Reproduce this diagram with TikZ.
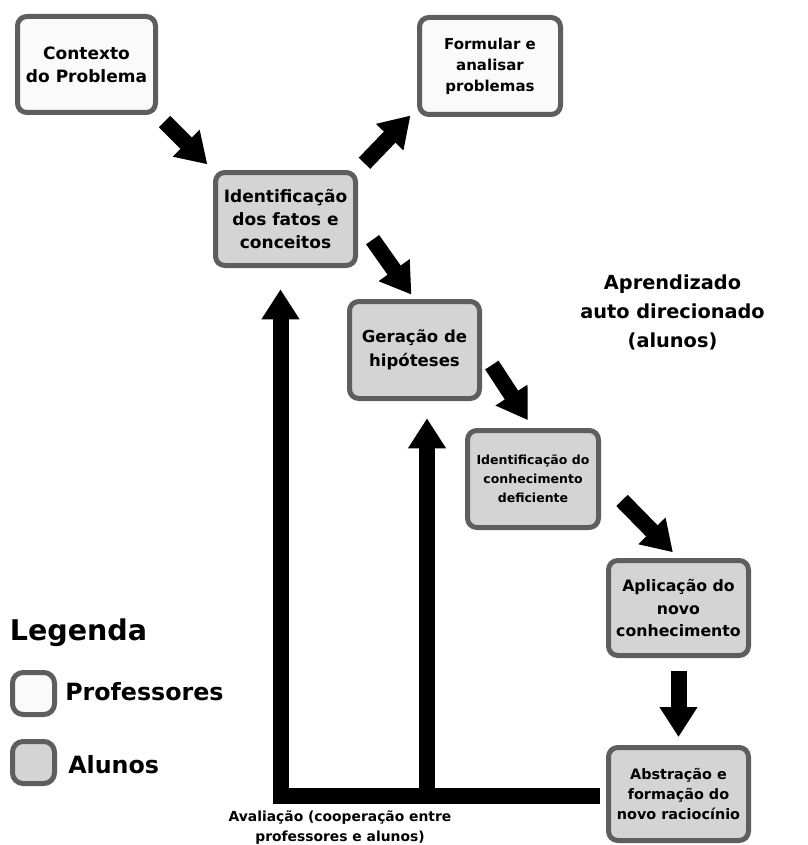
\documentclass[tikz,border=0pt]{standalone}
\usepackage{fontspec}
\setmainfont{DejaVu Sans}
\usetikzlibrary{arrows.meta}
\definecolor{boxgray}{HTML}{5E5E5E}
\definecolor{profwhite}{HTML}{FAFAFA}
\definecolor{alunogray}{HTML}{D4D4D4}
\newcommand{\txtsize}[2]{\fontsize{#1}{#2}\selectfont}

\begin{document}
\begin{tikzpicture}[x=0.75pt,y=-0.75pt,
  prof/.style={draw=boxgray, fill=profwhite, line width=3.75pt, rounded corners=7pt,
    align=center, inner sep=0pt},
  aluno/.style={prof, fill=alunogray},
  fat/.style={line width=12pt, -{Triangle[width=27pt,length=22.5pt]}}]
\useasboundingbox (0,0) rectangle (807,845);

\node [prof, minimum width=103.5pt, minimum height=72pt, font=\bfseries\txtsize{12.75}{17.25}]
  (ctx) at (86.5,64.5) {Contexto\\do Problema};
\node [prof, minimum width=105.75pt, minimum height=72.75pt, font=\bfseries\txtsize{11.25}{15.75}]
  (form) at (490,66) {Formular e\\analisar\\problemas};
\node [aluno, minimum width=105pt, minimum height=69.75pt, font=\bfseries\txtsize{12.75}{17.6}]
  (ident) at (285.5,219) {Identificação\\dos fatos e\\conceitos};
\node [aluno, minimum width=97.5pt, minimum height=72.75pt, font=\bfseries\txtsize{12.4}{18}]
  (ger) at (414.5,350) {Geração de\\hipóteses};
\node [aluno, minimum width=98.25pt, minimum height=72.75pt, font=\bfseries\txtsize{9.4}{14.25}]
  (conh) at (533,479) {Identificação do\\conhecimento\\deficiente};
\node [aluno, minimum width=105pt, minimum height=71.25pt, font=\bfseries\txtsize{11.8}{16.9}]
  (apl) at (678.5,608) {Aplicação do\\novo\\conhecimento};
\node [aluno, minimum width=105pt, minimum height=69.75pt, font=\bfseries\txtsize{10.8}{15}]
  (abs) at (678.5,794) {Abstração e\\formação do\\novo raciocínio};

\node [align=center, font=\bfseries\txtsize{14.5}{21.75}] (auto) at (672.5,312)
  {Aprendizado\\auto direcionado\\(alunos)};
\node [font=\bfseries\txtsize{21.4}{26}] (leg) at (78.5,633) {Legenda};
\node [prof, rounded corners=8pt, minimum size=31.5pt] (legp) at (33.5,693.5) {};
\node [aluno, rounded corners=8pt, minimum size=31.5pt] (lega) at (33.5,762.5) {};
\node [anchor=west, inner sep=0pt, font=\bfseries\txtsize{17.8}{22}] (legpt) at (65,692) {Professores};
\node [anchor=west, inner sep=0pt, font=\bfseries\txtsize{17.8}{22}] (legat) at (68,765) {Alunos};
\node [align=center, font=\bfseries\txtsize{10.4}{15}] (aval) at (340,828)
  {Avaliação (cooperação entre\\professores e alunos)};

\draw [fat, shorten <=7pt, shorten >=6pt] (ctx.south east) -- (ident.north west);
\draw [fat, shorten <=7pt] (ident.north east) -- ([xshift=-4.9pt,yshift=1.1pt]form.south west);
\draw [fat, shorten <=19pt, shorten >=4pt] (ident.east) -- (ger.north);
\draw [fat, shorten <=13.5pt, shorten >=7pt] (ger.east) -- (conh.north);
\draw [fat, shorten <=22.5pt, shorten >=6pt] (conh.east) -- (apl.north);
\draw [fat, shorten <=9.5pt, shorten >=6pt] (apl.south) -- (abs.north);

\coordinate (fb1) at (280.5,795.5);
\coordinate (fb2) at (427,795.5);
\draw [fat, miter limit=10, shorten <=4.5pt, shorten >=16pt] (abs.west |- fb1) -- (fb1) -- (fb1 |- ident.south);
\draw [fat, shorten >=13pt] (fb2) -- (fb2 |- ger.south);
\end{tikzpicture}
\end{document}
